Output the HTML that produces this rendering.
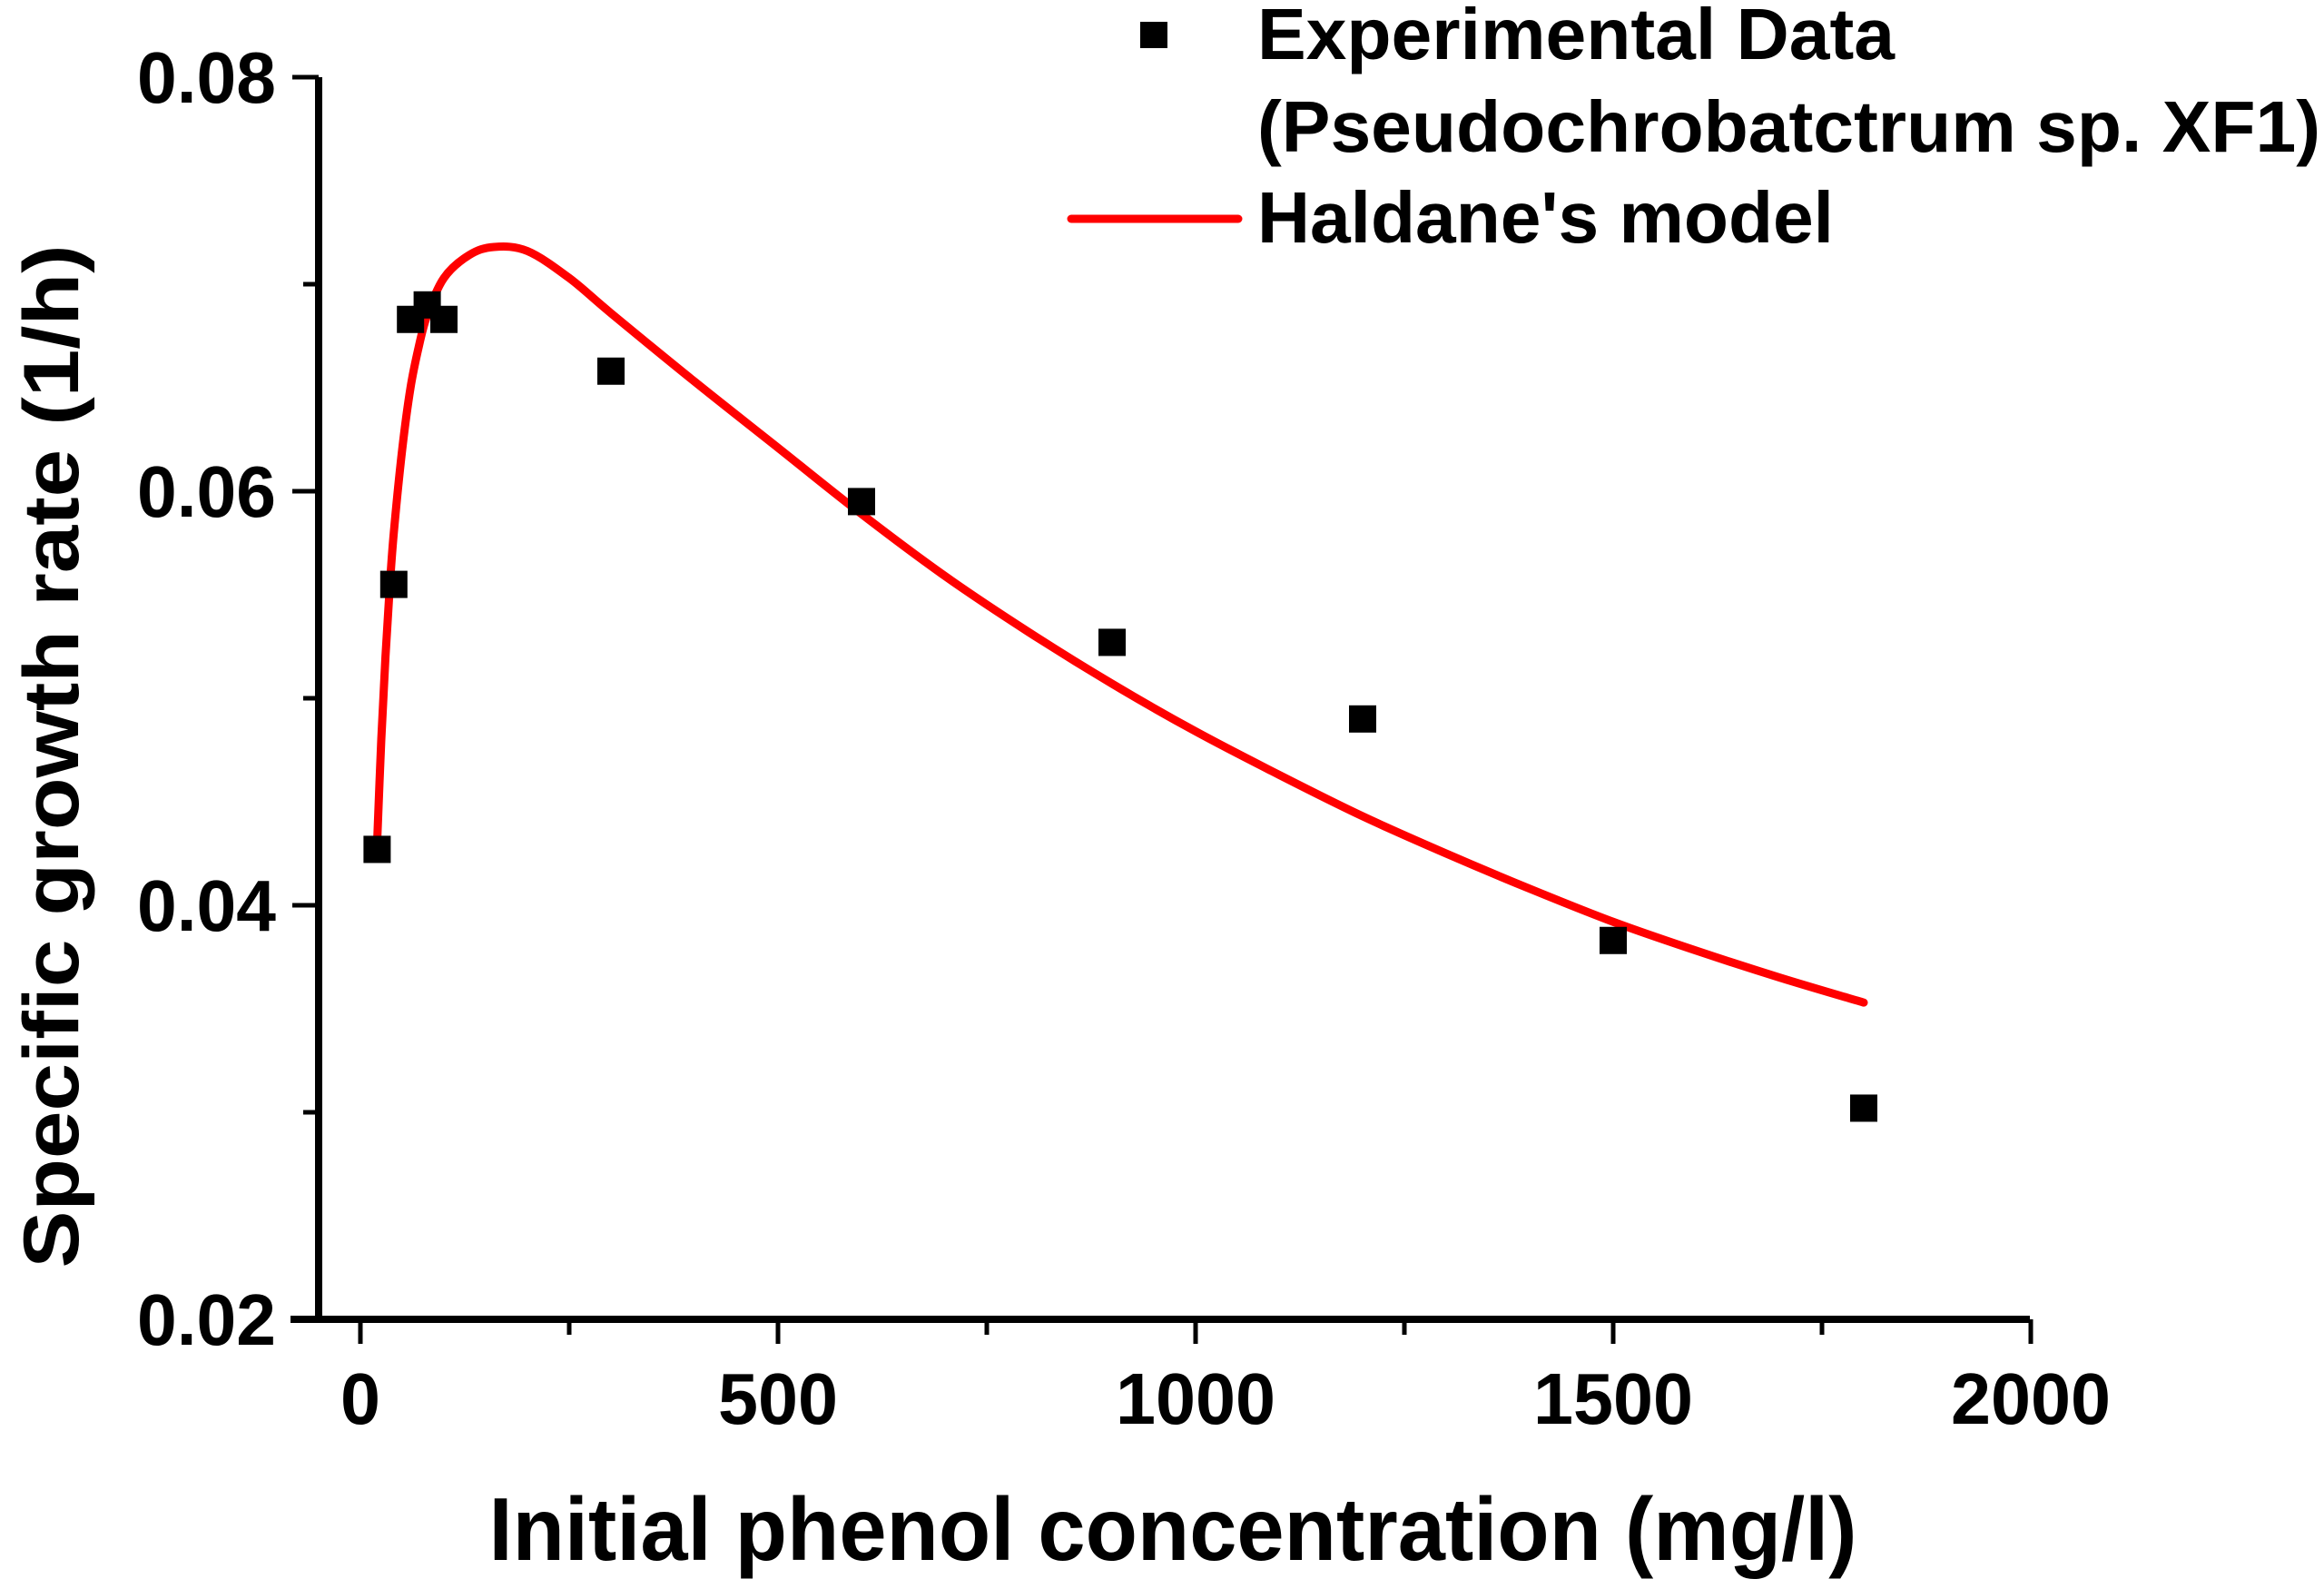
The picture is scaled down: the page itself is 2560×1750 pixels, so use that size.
<!DOCTYPE html>
<html><head><meta charset="utf-8"><style>
html,body{margin:0;padding:0;background:#fff;width:2560px;height:1750px;overflow:hidden}
svg{display:block}
text{font-family:"Liberation Sans",Arial,sans-serif;font-weight:bold;fill:#000}
</style></head><body>
<svg id="chart" width="2560" height="1750" viewBox="0 0 2560 1750" xmlns="http://www.w3.org/2000/svg">
<g id="axes"></g>
<g id="series"></g>
<text x="1292" y="1718" font-size="98" text-anchor="middle" textLength="1507" lengthAdjust="spacingAndGlyphs">Initial phenol concentration (mg/l)</text>
<text transform="translate(86,833) rotate(-90)" x="0" y="0" font-size="86" text-anchor="middle" textLength="1127" lengthAdjust="spacingAndGlyphs">Specific growth rate (1/h)</text>
<g>
<rect x="1256" y="24" width="30" height="29" fill="#000"/>
<text x="1385" y="65" font-size="80" textLength="702" lengthAdjust="spacingAndGlyphs">Experimental Data</text>
<text x="1385" y="167" font-size="80" textLength="1171" lengthAdjust="spacingAndGlyphs">(Pseudochrobatctrum sp. XF1)</text>
<line x1="1180" y1="241" x2="1364" y2="241" stroke="#ff0000" stroke-width="9" stroke-linecap="round"/>
<text x="1385" y="267" font-size="80" textLength="635" lengthAdjust="spacingAndGlyphs">Haldane's model</text>
</g>
</svg>
<script>
const expX = [20,40,60,80,100,300,600,900,1200,1500,1800];
const expY = [0.0427,0.0555,0.0683,0.0690,0.0683,0.0658,0.0595,0.0527,0.0490,0.0383,0.0302];
const modelX = [20,25,30,35,40,50,60,70,80,100,130,160,200,250,300,400,500,600,700,800,900,1000,1100,1200,1300,1400,1500,1600,1700,1800];
const modelY = [0.0430,0.0480,0.0520,0.0553,0.0580,0.0620,0.0650,0.0670,0.0685,0.0703,0.0714,0.0718,0.0716,0.0703,0.0686,0.0653,0.0621,0.0589,0.0559,0.0532,0.0507,0.0484,0.0463,0.0443,0.0425,0.0408,0.0392,0.0378,0.0365,0.0353];
const xTicks = [0,500,1000,1500,2000];
const xTickLabels = ["0","500","1000","1500","2000"];
const yTicks = [0.02,0.04,0.06,0.08];
const yTickLabels = ["0.02","0.04","0.06","0.08"];
const xMinor = [250,750,1250,1750];
const yMinor = [0.03,0.05,0.07];

const NS="http://www.w3.org/2000/svg";
function sx(v){return 397+v*0.92;}
function sy(v){return 1453-(v-0.02)*(1368/0.06);}
function mk(tag,attrs,parent){const e=document.createElementNS(NS,tag);for(const k in attrs)e.setAttribute(k,attrs[k]);parent.appendChild(e);return e;}
const axes=document.getElementById('axes');
const series=document.getElementById('series');

let yl=mk('line',{x1:351,y1:85,x2:351,y2:1457,stroke:'#000','stroke-width':8},axes);


let xl=mk('line',{x1:320,y1:1453,x2:2236,y2:1453,stroke:'#000','stroke-width':8},axes);



xTicks.forEach((v,i)=>{
  const t=mk('line',{x1:sx(v),y1:1453,x2:sx(v),y2:1480,stroke:'#000','stroke-width':5},axes);
  
  
  const s=xTickLabels[i];
  const l=mk('text',{x:sx(v),y:1568,'font-size':80,'text-anchor':'middle',textLength:44*s.length,lengthAdjust:'spacingAndGlyphs'},axes);
  l.textContent=s;
  
  
});
xMinor.forEach(v=>{
  const t=mk('line',{x1:sx(v),y1:1453,x2:sx(v),y2:1470,stroke:'#000','stroke-width':5},axes);
  
  
});
yTicks.forEach((v,i)=>{
  const t=mk('line',{x1:322,y1:sy(v),x2:351,y2:sy(v),stroke:'#000','stroke-width':5},axes);
  
  
  const l=mk('text',{x:304,y:sy(v)+28,'font-size':80,'text-anchor':'end',textLength:153,lengthAdjust:'spacingAndGlyphs'},axes);
  l.textContent=yTickLabels[i];
  
  
});
yMinor.forEach(v=>{
  const t=mk('line',{x1:334,y1:sy(v),x2:351,y2:sy(v),stroke:'#000','stroke-width':5},axes);
  
  
});

const P=modelX.map((x,i)=>[sx(x),sy(modelY[i])]);
let d='M'+P[0][0]+','+P[0][1];
for(let i=0;i<P.length-1;i++){
  const p0=P[Math.max(0,i-1)],p1=P[i],p2=P[i+1],p3=P[Math.min(P.length-1,i+2)];
  const c1=[p1[0]+(p2[0]-p0[0])/6,p1[1]+(p2[1]-p0[1])/6];
  const c2=[p2[0]-(p3[0]-p1[0])/6,p2[1]-(p3[1]-p1[1])/6];
  d+=' C'+c1[0]+','+c1[1]+' '+c2[0]+','+c2[1]+' '+p2[0]+','+p2[1];
}
const curve=mk('path',{d:d,fill:'none',stroke:'#ff0000','stroke-width':9,'stroke-linejoin':'round','stroke-linecap':'round'},series);



expX.forEach((x,i)=>{
  const r=mk('rect',{x:sx(x)-15,y:sy(expY[i])-15,width:30,height:30,fill:'#000'},series);
  
  
});
</script>
</body></html>
